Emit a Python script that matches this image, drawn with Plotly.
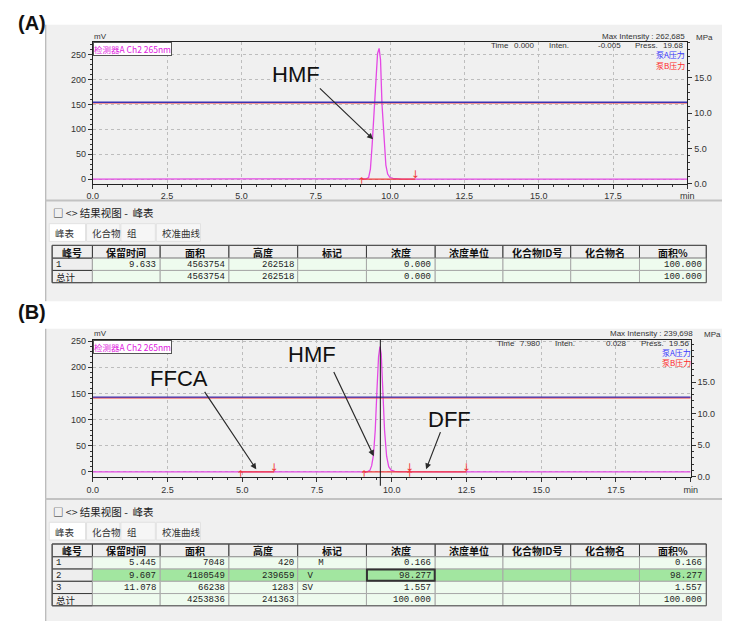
import plotly.graph_objects as go

W, H = 729, 626


def px(x):
    return x / W


def py(y):
    return 1 - y / H


# ---------------- chromatogram (A) ----------------
time_a = [0.0, 9.20, 9.28, 9.34, 9.40, 9.46, 9.52, 9.58, 9.633, 9.68, 9.73,
          9.80, 9.86, 9.92, 10.00, 10.10, 10.25, 10.40, 20.0]
signal_a = [0.0, 0.3, 3.0, 20.0, 70.0, 131.0, 205.0, 252.0, 262.5, 240.0, 150.0,
            70.0, 28.0, 10.0, 3.0, 1.2, 0.4, 0.0, 0.0]
press_time = [0.0, 20.0]
pump_a_press_a = [11.55, 11.55]
pump_b_press_a = [11.45, 11.45]
peak_start_a = [9.05]
peak_end_a = [10.85]

# ---------------- chromatogram (B) ----------------
time_b = [0.0, 5.0, 5.30, 5.445, 5.60, 6.0, 9.18, 9.27, 9.33, 9.39, 9.45, 9.51,
          9.56, 9.607, 9.65, 9.70, 9.76, 9.83, 9.90, 9.98, 10.10, 10.25, 10.60,
          10.85, 11.078, 11.35, 11.75, 20.0]
signal_b = [0.0, 0.0, 0.2, 0.42, 0.2, 0.0, 0.3, 3.0, 12.0, 32.0, 80.0, 160.0,
            220.0, 239.7, 225.0, 160.0, 80.0, 30.0, 10.0, 3.5, 1.2, 0.6, 0.4,
            1.0, 1.28, 0.9, 0.3, 0.0]
pump_a_press_b = [12.6, 12.6]
pump_b_press_b = [12.5, 12.5]
peak_start_b = [4.95, 9.08, 10.60]
peak_end_b = [6.07, 10.60, 12.50]
cursor_time_b = 9.62

# axis ticks
x_tickvals = [0, 2.5, 5, 7.5, 10, 12.5, 15, 17.5, 20]
x_ticktext = ["0.0", "2.5", "5.0", "7.5", "10.0", "12.5", "15.0", "17.5", "min"]
p_tickvals = [0, 5, 10, 15]
p_ticktext = ["0.0", "5.0", "10.0", "15.0"]

# peak labels: name, arrow tail (time, mV), arrow tip (time, mV), label centre (px)
labels_a = [("HMF", (7.59, 185.0), (9.43, 80.0), (295, 72))]
labels_b = [("FFCA", (3.71, 156.0), (5.47, 5.0), (176, 380)),
            ("HMF", (8.04, 194.0), (9.40, 30.0), (312, 356)),
            ("DFF", (11.65, 79.0), (11.15, 5.0), (452, 422))]

# ---------------- peak tables ----------------
columns = ["峰号", "保留时间", "面积", "高度", "标记", "浓度", "浓度单位", "化合物ID号", "化合物名", "面积%"]

ret_a = [9.633]
area_a = [4563754]
height_a = [262518]
mark_a = [""]
conc_a = [0.000]
pct_a = [100.000]
total_a = [4563754, 262518, 0.000, 100.000]

ret_b = [5.445, 9.607, 11.078]
area_b = [7048, 4180549, 66238]
height_b = [420, 239659, 1283]
mark_b = ["\u00a0\u00a0\u00a0M", "\u00a0V", "SV"]
conc_b = [0.166, 98.277, 1.557]
pct_b = [0.166, 98.277, 1.557]
total_b = [4253836, 241363, 100.000, 100.000]

tab_names = ["峰表", "化合物", "组", "校准曲线"]

CJK = "Noto Sans CJK SC"
SANS = "Liberation Sans"
MONO = "Liberation Mono"
MAGENTA = "#e448e4"
RED = "#f03a3a"
BLUE = "#3a32b4"

fig = go.Figure()

shapes = []
annotations = []


def rect(x0, y0, x1, y1, fill, line="#000", lw=1, layer="above"):
    shapes.append(dict(type="rect", xref="paper", yref="paper",
                       x0=px(x0), x1=px(x1), y0=py(y1), y1=py(y0),
                       fillcolor=fill, line=dict(color=line, width=lw), layer=layer))


def hline(x0, x1, y, color, lw=1, layer="above"):
    shapes.append(dict(type="line", xref="paper", yref="paper",
                       x0=px(x0), x1=px(x1), y0=py(y), y1=py(y),
                       line=dict(color=color, width=lw), layer=layer))


def vline(x, y0, y1, color, lw=1, layer="above"):
    shapes.append(dict(type="line", xref="paper", yref="paper",
                       x0=px(x), x1=px(x), y0=py(y0), y1=py(y1),
                       line=dict(color=color, width=lw), layer=layer))


def text(x, y, s, size=9, color="#222", family=SANS, xanchor="left", yanchor="middle", **kw):
    annotations.append(dict(x=px(x), y=py(y), xref="paper", yref="paper", text=s,
                            showarrow=False, xanchor=xanchor, yanchor=yanchor,
                            font=dict(size=size, color=color, family=family), **kw))


# ---------------- panel backgrounds ----------------
rect(40, 22, 729, 302, "#f0f0f0", line="#f0f0f0", lw=0, layer="below")
rect(40, 330, 729, 626, "#f0f0f0", line="#f0f0f0", lw=0, layer="below")
vline(40.5, 22, 302, "#a8a8a8", layer="below")
vline(40.5, 330, 626, "#a8a8a8", layer="below")

text(10, 20, "<b>(A)</b>", size=20, color="#111")
text(10, 313, "<b>(B)</b>", size=20, color="#111")


def add_chromatogram(xa, ya, ya2, times, signal, pa, pb, starts, ends, mv_per_px):
    fig.add_trace(go.Scatter(x=press_time, y=pb, xaxis=xa, yaxis=ya2, mode="lines",
                             line=dict(color=RED, width=1.2), hoverinfo="skip"))
    fig.add_trace(go.Scatter(x=press_time, y=pa, xaxis=xa, yaxis=ya2, mode="lines",
                             line=dict(color=BLUE, width=1.3), hoverinfo="skip"))
    fig.add_trace(go.Scatter(x=times, y=signal, xaxis=xa, yaxis=ya, mode="lines",
                             line=dict(color=MAGENTA, width=1.3), hoverinfo="skip"))
    bx, by = [], []
    for s, e in zip(starts, ends):
        bx += [s, e, None]
        by += [0, 0, None]
    fig.add_trace(go.Scatter(x=bx, y=by, xaxis=xa, yaxis=ya, mode="lines",
                             line=dict(color=RED, width=1.2), hoverinfo="skip"))
    # peak start / end markers
    fig.add_trace(go.Scatter(x=starts, y=[-3.0 * mv_per_px] * len(starts), xaxis=xa, yaxis=ya,
                             mode="text", text=["↑"] * len(starts),
                             textfont=dict(size=10.5, color=RED, family="DejaVu Sans"),
                             textposition="middle center", hoverinfo="skip"))
    fig.add_trace(go.Scatter(x=ends, y=[3.5 * mv_per_px] * len(ends), xaxis=xa, yaxis=ya,
                             mode="text", text=["↓"] * len(ends),
                             textfont=dict(size=10.5, color=RED, family="DejaVu Sans"),
                             textposition="middle center", hoverinfo="skip"))


add_chromatogram("x", "y", "y2", time_a, signal_a, pump_a_press_a, pump_b_press_a,
                 peak_start_a, peak_end_a, 1 / 0.504)
add_chromatogram("x2", "y3", "y4", time_b, signal_b, pump_a_press_b, pump_b_press_b,
                 peak_start_b, peak_end_b, 1 / 0.53)

# cursor in (B)
shapes.append(dict(type="line", xref="x2", yref="paper", x0=cursor_time_b, x1=cursor_time_b,
                   y0=py(489), y1=py(341), line=dict(color="#111", width=1), layer="above"))


# peak labels with arrows
def add_labels(labels, xr, yr):
    for name, tail, tip, pos in labels:
        annotations.append(dict(x=tip[0], y=tip[1], ax=tail[0], ay=tail[1], xref=xr, yref=yr,
                                axref=xr, ayref=yr, text="", showarrow=True, arrowhead=2,
                                arrowsize=1.0, arrowwidth=1.2, arrowcolor="#2a2a2a",
                                standoff=0, startstandoff=0))
        text(pos[0], pos[1], name, size=22, color="#111", xanchor="center")


add_labels(labels_a, "x", "y")
add_labels(labels_b, "x2", "y3")


# header information over each chromatogram
def plot_header(top, right, max_int, t, inten, press, dx):
    text(88, top - 6, "mV", size=8, color="#333")
    text(right, top - 6, "Max Intensity : " + max_int, size=8, color="#333", xanchor="right")
    text(right + 7, top - 5, "MPa", size=8, color="#333")
    text(88.5, top + 0.5, "检测器A Ch2 265nm", size=8.5, color="#e020e0", family=CJK,
         yanchor="top", bordercolor="#555", borderwidth=1, borderpad=0, bgcolor="#ffffff")
    y = top + 4
    text(492 + dx, y, "Time", size=8, color="#333")
    text(541 + dx, y, t, size=8, color="#333", xanchor="right")
    text(551 + dx, y, "Inten.", size=8, color="#333")
    text(628 + dx, y, inten, size=8, color="#333", xanchor="right")
    text(638 + dx, y, "Press.", size=8, color="#333")
    text(692 + dx, y, press, size=8, color="#333", xanchor="right")
    text(693 + dx, top + 13, "泵A压力", size=8, color="#3a3aff", family=CJK, xanchor="right")
    text(693 + dx, top + 23.5, "泵B压力", size=8, color="#ff2a2a", family=CJK, xanchor="right")


plot_header(39.5, 693, "262,685", "0.000", "-0.005", "19.68", 0)
plot_header(341, 702, "239,698", "7.980", "0.028", "19.56", 6)

# ---------------- result view (tables) ----------------
col_edges = [47, 88, 157, 227, 297, 367, 437, 506, 575, 645, 713]
tab_edges = [44, 82, 117, 153, 199]
align = ["left", "right", "right", "right", "left", "right", "left", "left", "left", "right"]


def table_rows(ret, area, height, mark, conc, pct, total):
    rows = []
    for i in range(len(ret)):
        rows.append([str(i + 1), f"{ret[i]:.3f}", str(area[i]), str(height[i]), mark[i],
                     f"{conc[i]:.3f}", "", "", "", f"{pct[i]:.3f}"])
    rows.append(["总计", "", str(total[0]), str(total[1]), "", f"{total[2]:.3f}", "", "", "",
                 f"{total[3]:.3f}"])
    return rows


def result_view(sep_y, rows, highlight=None, selected=None):
    hline(40, 729, sep_y, "#c2c2c2", lw=2)
    title_y = sep_y + 12.5
    text(46, title_y, "□ <> 结果视图 -  峰表", size=10.5, color="#222", family=CJK)
    tab_top = sep_y + 23.5
    for k, name in enumerate(tab_names):
        fill = "#ffffff" if k == 0 else "#f6f6f6"
        rect(tab_edges[k], tab_top, tab_edges[k + 1] - 1, tab_top + 18, fill, line="#e2e2e2", lw=1)
        text(tab_edges[k] + 4, tab_top + 9.5, name, size=9.5, color="#333", family=CJK)
    top = sep_y + 45.5
    hh, rh = 13, 12.4
    for j, name in enumerate(columns):
        rect(col_edges[j], top, col_edges[j + 1], top + hh, "#eeeeee", line="#3a3a3a", lw=1)
        text((col_edges[j] + col_edges[j + 1]) / 2, top + hh / 2 + 0.5, "<b>" + name + "</b>",
             size=10, color="#111", family=CJK, xanchor="center")
    y = top + hh
    for i, row in enumerate(rows):
        for j, val in enumerate(row):
            x0, x1 = col_edges[j], col_edges[j + 1]
            if j == 0:
                rect(x0, y, x1, y + rh, "#eeeeee", line="#3a3a3a", lw=1)
            else:
                fill = "#a2e6a0" if i == highlight else "#eefbee"
                rect(x0, y, x1, y + rh, fill, line="#a8a8a8", lw=1)
            if val == "":
                continue
            fam = CJK if val == "总计" else MONO
            if align[j] == "right":
                text(x1 - 2, y + rh / 2 + 0.5, val, size=9, color="#222", family=fam, xanchor="right")
            else:
                text(x0 + 2, y + rh / 2 + 0.5, val, size=9.5 if fam == CJK else 9, color="#222",
                     family=fam)
        y += rh
    if selected is not None:
        i, j = selected
        ys = top + hh + i * rh
        rect(col_edges[j] + 0.5, ys + 0.5, col_edges[j + 1] - 0.5, ys + rh - 0.5, "rgba(0,0,0,0)",
             line="#333", lw=2)
    rect(col_edges[0], top, col_edges[-1], y, "rgba(0,0,0,0)", line="#555", lw=1)


result_view(200, table_rows(ret_a, area_a, height_a, mark_a, conc_a, pct_a, total_a))
result_view(502.5, table_rows(ret_b, area_b, height_b, mark_b, conc_b, pct_b, total_b),
            highlight=1, selected=(1, 5))

# ---------------- axes ----------------
tickfont = dict(size=9, color="#333", family=SANS)
common_x = dict(range=[0, 20], tickmode="array", tickvals=x_tickvals, ticktext=x_ticktext,
                ticks="outside", ticklen=4, tickcolor="#333", showline=True, linecolor="#222",
                linewidth=1, mirror=True, showgrid=True, gridcolor="#bdbdbd", griddash="dot",
                zeroline=False, tickfont=tickfont,
                minor=dict(tickmode="linear", tick0=0, dtick=0.5, ticklen=2, tickcolor="#333",
                           ticks="outside", showgrid=False))
common_y = dict(tickmode="linear", tick0=0, dtick=50, ticks="outside", ticklen=4,
                tickcolor="#333", showline=True, linecolor="#222", linewidth=1,
                showgrid=True, gridcolor="#bdbdbd", griddash="dot", zeroline=False,
                tickfont=tickfont,
                minor=dict(tickmode="linear", tick0=0, dtick=10, ticklen=2, tickcolor="#333",
                           ticks="outside", showgrid=False))
common_p = dict(side="right", tickmode="array", tickvals=p_tickvals, ticktext=p_ticktext,
                ticks="outside", ticklen=4, tickcolor="#333", showline=True, linecolor="#222",
                linewidth=1, showgrid=False, zeroline=False, tickfont=tickfont,
                minor=dict(tickmode="linear", tick0=0, dtick=1, ticklen=2, tickcolor="#333",
                           ticks="outside", showgrid=False))

fig.update_layout(
    width=W, height=H,
    margin=dict(l=0, r=0, t=0, b=0),
    paper_bgcolor="#ffffff",
    plot_bgcolor="#fdfdfd",
    showlegend=False,
    font=dict(family=SANS),
    xaxis=dict(domain=[px(88.3), px(693.7)], anchor="y", **common_x),
    yaxis=dict(domain=[py(183), py(39.5)], anchor="x", range=[-9.3, 275.4], **common_y),
    yaxis2=dict(overlaying="y", anchor="x", range=[0, 20.1], **common_p),
    xaxis2=dict(domain=[px(88.3), px(697.1)], anchor="y3", **common_x),
    yaxis3=dict(domain=[py(480), py(341)], anchor="x2", range=[-9.4, 252.8], **common_y),
    yaxis4=dict(overlaying="y3", anchor="x2", range=[0, 21.7], **common_p),
    shapes=shapes,
    annotations=annotations,
)

fig.write_html("out.html", config={"displayModeBar": False})
